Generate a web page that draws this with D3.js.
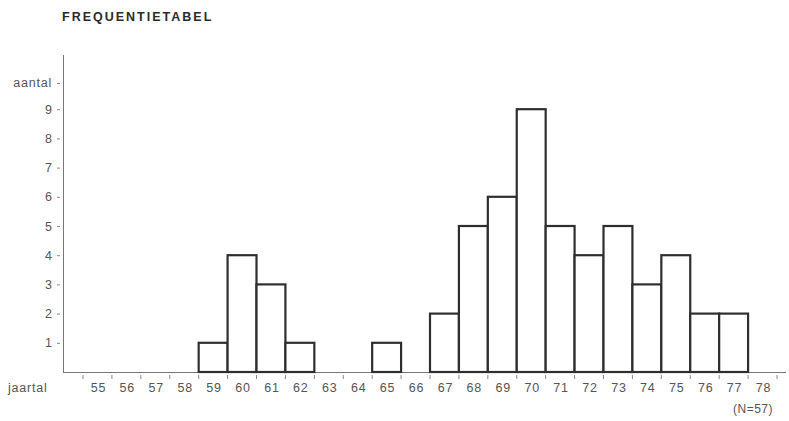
<!DOCTYPE html>
<html><head><meta charset="utf-8">
<script src="https://cdn.jsdelivr.net/npm/d3@7"></script>
<style>body{margin:0;background:#fff}svg{display:block}</style>
</head><body><svg id="c" width="789" height="421"></svg>
<script>
const years = ["55","56","57","58","59","60","61","62","63","64","65","66","67","68","69","70","71","72","73","74","75","76","77","78"];
const counts = [0,0,0,0,1,4,3,1,0,0,1,0,2,5,6,9,5,4,5,3,4,2,2,0];
const yTicks = [1,2,3,4,5,6,7,8,9];
const title = "FREQUENTIETABEL";
const yLabel = "aantal";
const xLabel = "jaartal";
const note = "(N=57)";

const svg = d3.select("#c");
const font = "'Liberation Sans', Arial, sans-serif";
const fs = 12.5, ls = 0.8, tc = "#555";
const x = d3.scaleBand().domain(years).range([83, 777]).padding(0);
const y = d3.scaleLinear().domain([0, 10]).range([372, 80]);

svg.append("text").attr("x", 62).attr("y", 21).text(title)
  .attr("font-family", font).attr("font-weight", "bold").attr("font-size", 12.5)
  .attr("fill", "#2a2a2a").attr("letter-spacing", 2.0);

// axes lines
svg.append("line").attr("x1", 63.5).attr("x2", 63.5).attr("y1", 55).attr("y2", 372.5)
  .attr("stroke", "#777").attr("stroke-width", 1);
svg.append("line").attr("x1", 63).attr("x2", 786).attr("y1", 372.5).attr("y2", 372.5)
  .attr("stroke", "#777").attr("stroke-width", 1);

// bars
const data = years.map((d, i) => ({year: d, v: counts[i]})).filter(d => d.v > 0);
svg.append("g").selectAll("rect").data(data).join("rect")
  .attr("x", d => x(d.year)).attr("width", x.bandwidth())
  .attr("y", d => y(d.v)).attr("height", d => y(0) - y(d.v))
  .attr("fill", "#fff").attr("stroke", "#2e2e2e").attr("stroke-width", 2.2);

// x ticks at bin edges
const edges = years.map(d => x(d)).concat([x(years[years.length-1]) + x.bandwidth()]);
svg.append("g").selectAll("line").data(edges).join("line")
  .attr("x1", d => d).attr("x2", d => d).attr("y1", 375).attr("y2", 379)
  .attr("stroke", "#888").attr("stroke-width", 1);

// x labels
svg.append("g").selectAll("text").data(years).join("text")
  .attr("x", d => x(d) + x.bandwidth()/2 + 1).attr("y", 392).attr("text-anchor", "middle")
  .text(d => d).attr("font-family", font).attr("font-size", fs).attr("letter-spacing", ls).attr("fill", tc);
svg.append("text").attr("x", 8).attr("y", 392).text(xLabel)
  .attr("font-family", font).attr("font-size", fs).attr("letter-spacing", ls).attr("fill", tc);

// y ticks
const yg = svg.append("g");
yg.selectAll("text").data(yTicks).join("text")
  .attr("x", 52).attr("y", d => y(d) + 4.5).attr("text-anchor", "end")
  .text(d => d).attr("font-family", font).attr("font-size", fs).attr("fill", tc);
yg.selectAll("line").data(yTicks).join("line")
  .attr("x1", 57).attr("x2", 60).attr("y1", d => y(d) + 0.5).attr("y2", d => y(d) + 0.5)
  .attr("stroke", "#888");
svg.append("text").attr("x", 52).attr("y", 87).attr("text-anchor", "end").text(yLabel)
  .attr("font-family", font).attr("font-size", fs).attr("letter-spacing", ls).attr("fill", tc);
svg.append("line").attr("x1", 57).attr("x2", 60).attr("y1", 83.5).attr("y2", 83.5).attr("stroke", "#888");

svg.append("text").attr("x", 773).attr("y", 413).attr("text-anchor", "end").text(note)
  .attr("font-family", font).attr("font-size", 12).attr("letter-spacing", 0.5).attr("fill", tc);
</script></body></html>
